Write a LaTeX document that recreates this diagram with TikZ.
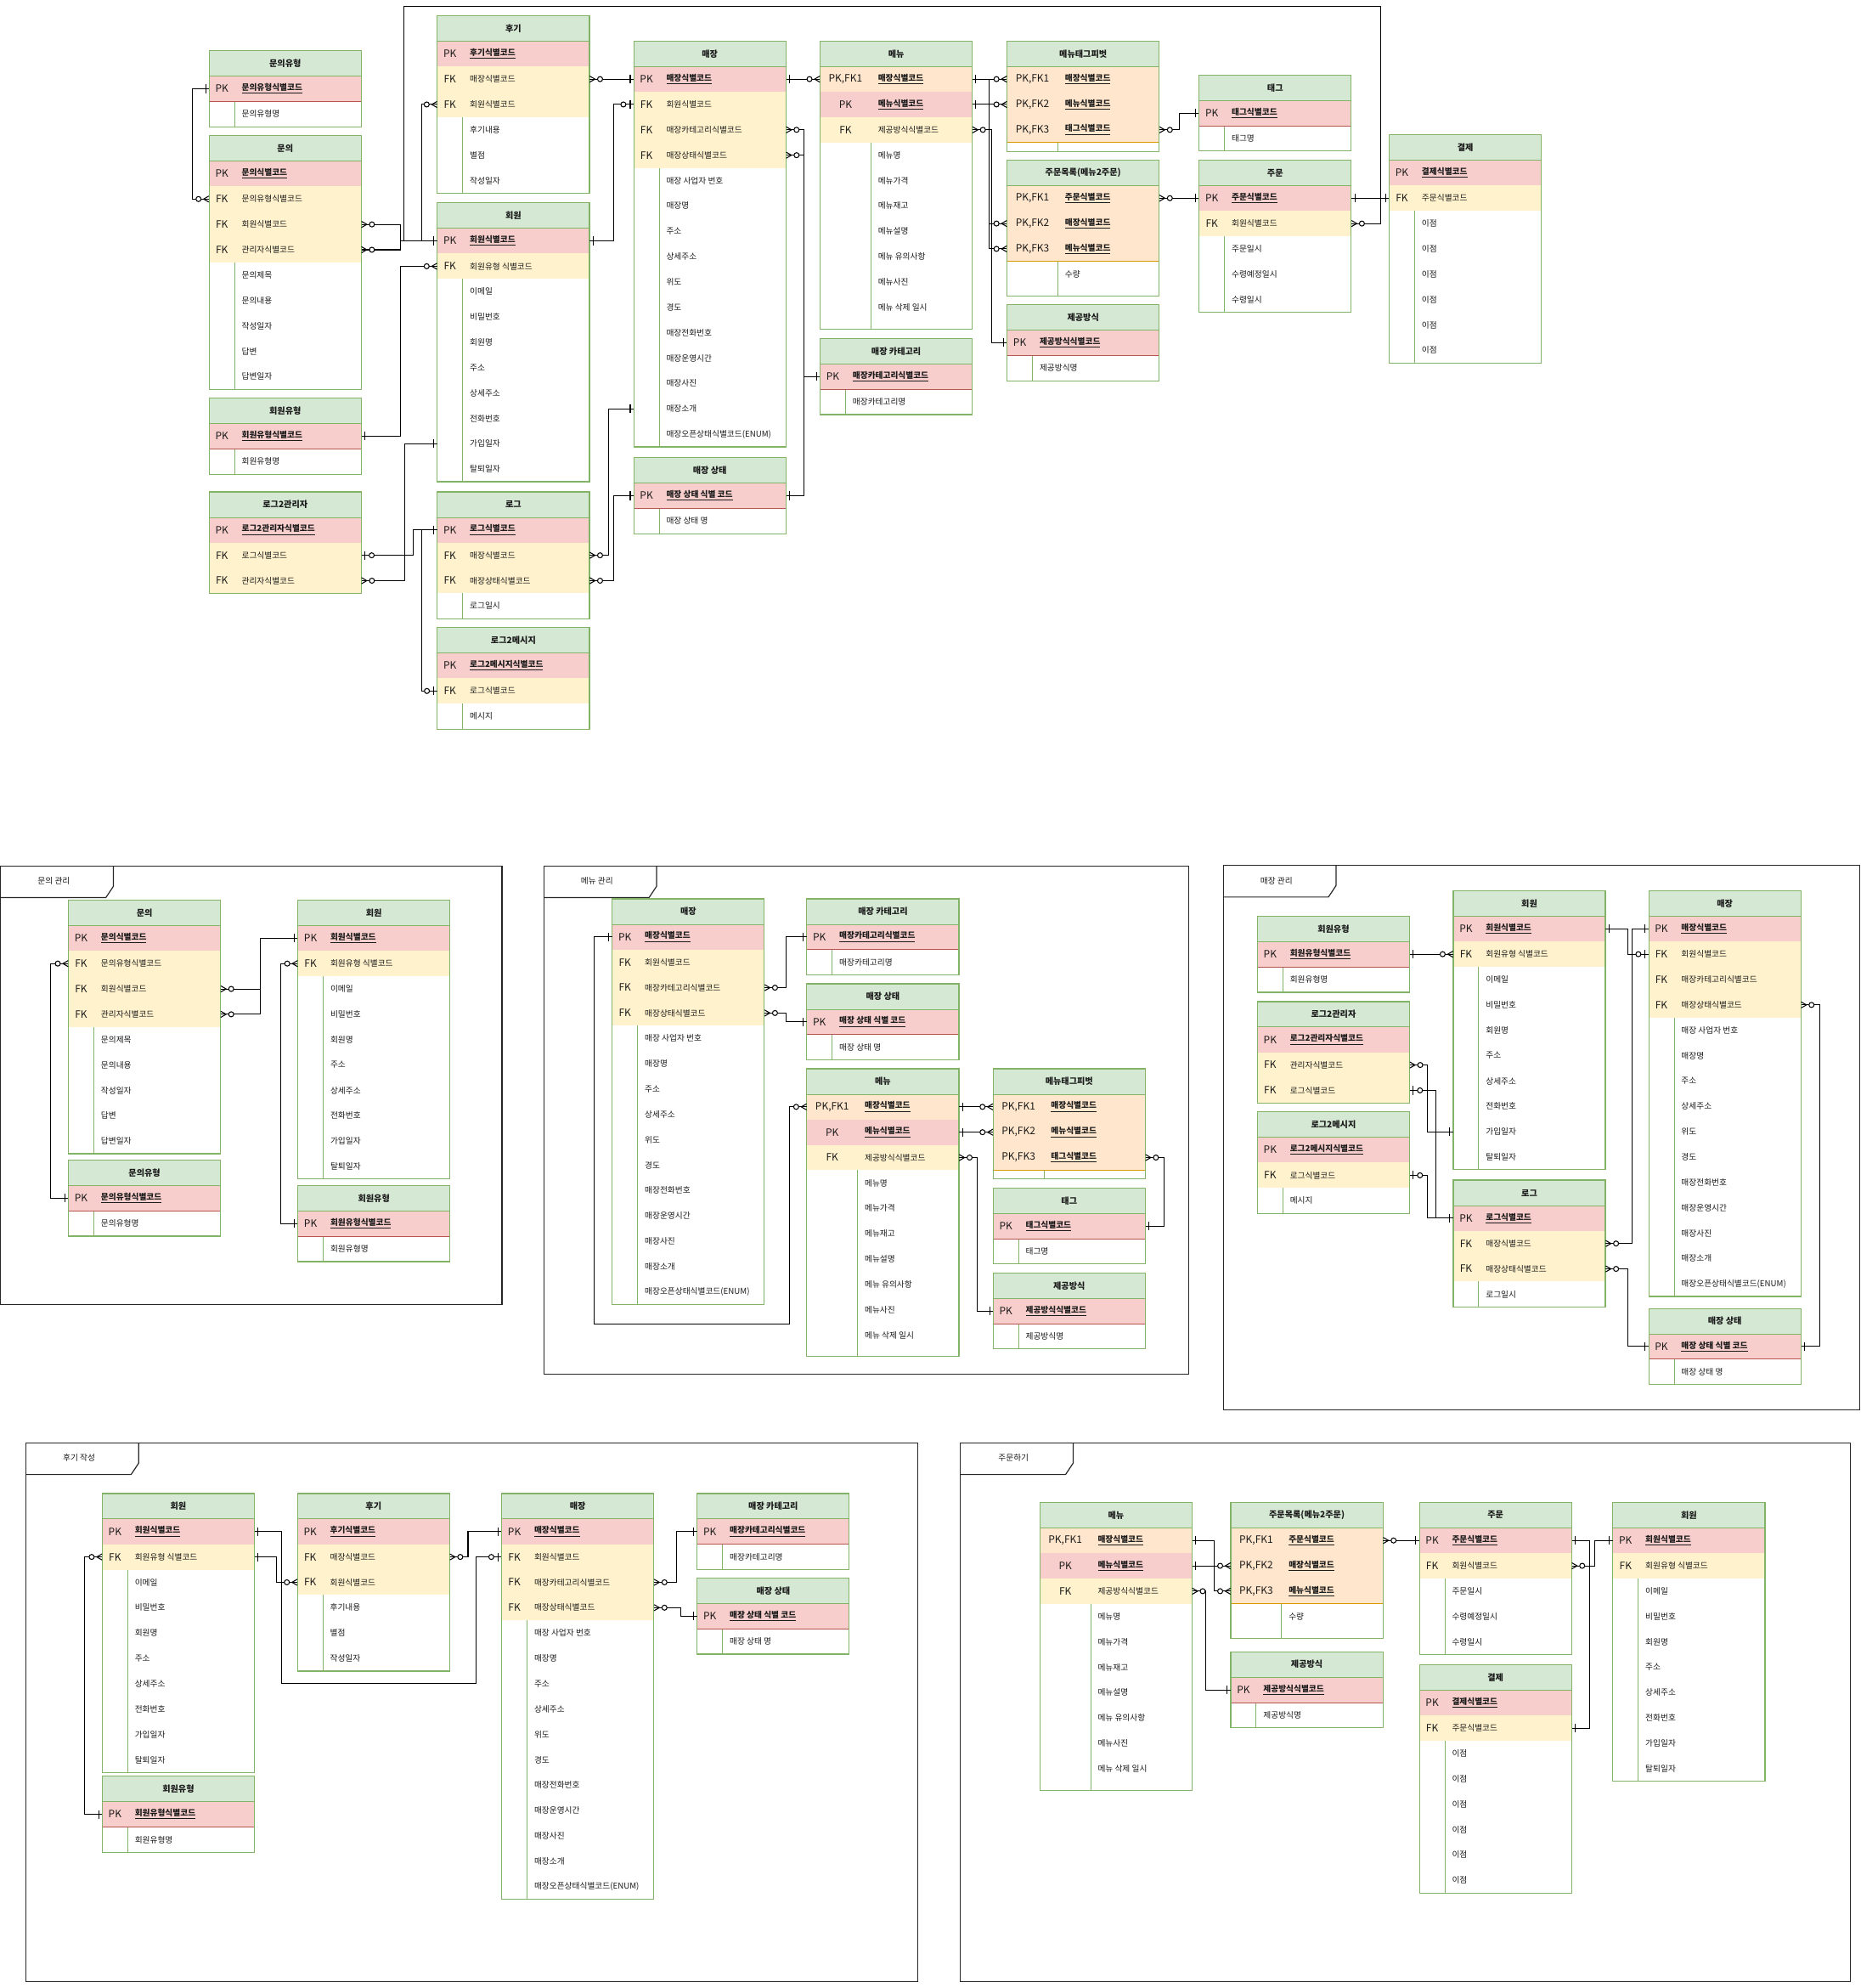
\documentclass[tikz,border=0pt]{standalone}
\usepackage{fontspec}
\setmainfont{Noto Sans CJK KR}

\definecolor{ttlc}{HTML}{D5E8D4}
\definecolor{grnc}{HTML}{82B366}
\definecolor{pkc}{HTML}{F8CECC}
\definecolor{pkline}{HTML}{B85450}
\definecolor{fkc}{HTML}{FFF2CC}
\definecolor{pfkc}{HTML}{FFE6CC}
\definecolor{pfkline}{HTML}{D79B00}
\definecolor{txtc}{HTML}{1A1A1A}

\tikzset{
  ertitle/.style={fill=ttlc, minimum width=120pt, minimum height=20pt, inner sep=0pt, font=\bfseries\fontsize{6.8}{7}\selectfont, text=txtc},
  errow/.style={minimum width=120pt, inner sep=0pt},
  erkey/.style={inner sep=0pt, font=\fontsize{8}{9}\selectfont, text=txtc},
  ername/.style={anchor=west, inner sep=0pt, font=\fontsize{6.5}{7}\selectfont, text=txtc},
  ergrid/.style={draw=grnc, line width=.6pt},
  erborder/.style={draw=grnc, line width=.8pt},
  cnx/.style={draw=black, line width=.7pt},
  frm/.style={draw=black!85, line width=.8pt},
  frmlbl/.style={inner sep=0pt, font=\fontsize{6.5}{7}\selectfont, text=txtc},
  lft/.style={xscale=-1},
  pics/one/.style={code={\draw[cnx] (2.6,-3.4) -- (2.6,3.4);}},
  pics/zone/.style={code={\draw[cnx] (2.6,-3.4) -- (2.6,3.4); \draw[cnx, fill=white] (8,0) circle[radius=2pt];}},
  pics/zmany/.style={code={\draw[cnx] (0,-2.4) -- (4.2,0) -- (0,2.4); \draw[cnx, fill=white] (8.2,0) circle[radius=2pt];}},
}

% row formats and fills by row type
\newcommand{\erfmtp}[1]{\textbf{\underline{#1}}}
\newcommand{\erfmtk}[1]{\textbf{\underline{#1}}}
\newcommand{\erfmtf}[1]{#1}
\newcommand{\erfmta}[1]{#1}
\newcommand{\erfmte}[1]{#1}
\newcommand{\erfmtq}[1]{#1}
\def\erfillp{pkc}\def\erfillk{pfkc}\def\erfillf{fkc}
\def\erfilla{white}\def\erfille{white}\def\erfillq{white}
\def\erwhitea{1}\def\erwhitee{1}\def\erwhiteq{1}

% entity table: id, left, top, key width, title, rows
\newcommand{\erbox}[6]{%
  \node[ertitle] (#1) at ({#2+60},{#3+10}) {#5};
  \gdef\erlast{t}%
  \edef\erlist{#6}%
  \foreach[count=\i] \ty/\ky/\nm in \erlist {%
    \pgfmathsetmacro\rtop{#3+20*\i}%
    \def\rh{20}%
    \if e\ty \def\rh{7}\fi
    \if q\ty \def\rh{27}\fi
    \edef\rf{\csname erfill\ty\endcsname}%
    \node[errow, minimum height=\rh pt, fill=\rf] (#1-\i) at ({#2+60},{\rtop+\rh/2}) {};
    \node[erkey] at ({#2+#4/2},{\rtop+10}) {\ky};
    \node[ername] at ({#2+#4+5.5},{\rtop+10}) {\csname erfmt\ty\endcsname{\nm}};
    \ifcsname erwhite\ty\endcsname
      \draw[ergrid] ({#2+#4},\rtop) -- ({#2+#4},{\rtop+\rh});
      \if p\erlast \draw[draw=pkline, line width=.6pt] (#2,\rtop) -- ({#2+120},\rtop); \fi
      \if k\erlast \draw[draw=pfkline, line width=.6pt] (#2,\rtop) -- ({#2+120},\rtop); \fi
    \fi
    \pgfmathsetmacro\rb{\rtop+\rh}%
    \xdef\erbot{\rb}%
    \xdef\erlast{\ty}%
  }
  \draw[draw=grnc, line width=.5pt] (#2,{#3+20}) -- ({#2+120},{#3+20});
  \draw[erborder] (#2,#3) rectangle ({#2+120},\erbot);
}

% frame with label tab: id, x0, y0, x1, y1, label
\newcommand{\erframe}[6]{%
  \draw[frm] (#2,#3) rectangle (#4,#5);
  \draw[frm] (#2,{#3+25}) -- ({#2+83},{#3+25}) -- ({#2+89},{#3+16}) -- ({#2+89},#3);
  \node[frmlbl] (#1) at ({#2+42},{#3+12}) {#6};
}

\newcommand{\rlinq}{p/PK/문의식별코드, f/FK/문의유형식별코드, f/FK/회원식별코드, f/FK/관리자식별코드, a//문의제목, a//문의내용, a//작성일자, a//답변, a//답변일자}
\newcommand{\rlinqtype}{p/PK/문의유형식별코드, a//문의유형명}
\newcommand{\rlmem}{p/PK/회원식별코드, f/FK/회원유형 식별코드, a//이메일, a//비밀번호, a//회원명, a//주소, a//상세주소, a//전화번호, a//가입일자, a//탈퇴일자}
\newcommand{\rlmemtype}{p/PK/회원유형식별코드, a//회원유형명}
\newcommand{\rlstore}{p/PK/매장식별코드, f/FK/회원식별코드, f/FK/매장카테고리식별코드, f/FK/매장상태식별코드, a//매장 사업자 번호, a//매장명, a//주소, a//상세주소, a//위도, a//경도, a//매장전화번호, a//매장운영시간, a//매장사진, a//매장소개, a//매장오픈상태식별코드(ENUM)}
\newcommand{\rlstate}{p/PK/매장 상태 식별 코드, a//매장 상태 명}
\newcommand{\rlcat}{p/PK/매장카테고리식별코드, a//매장카테고리명}
\newcommand{\rlmenu}{k/{PK,FK1}/매장식별코드, p/PK/메뉴식별코드, f/FK/제공방식식별코드, a//메뉴명, a//메뉴가격, a//메뉴재고, a//메뉴설명, a//메뉴 유의사항, a//메뉴사진, a//메뉴 삭제 일시, e//}
\newcommand{\rlpivot}{k/{PK,FK1}/매장식별코드, k/{PK,FK2}/메뉴식별코드, k/{PK,FK3}/태그식별코드, e//}
\newcommand{\rlorditem}{k/{PK,FK1}/주문식별코드, k/{PK,FK2}/매장식별코드, k/{PK,FK3}/메뉴식별코드, q//수량}
\newcommand{\rlserve}{p/PK/제공방식식별코드, a//제공방식명}
\newcommand{\rltag}{p/PK/태그식별코드, a//태그명}
\newcommand{\rlorder}{p/PK/주문식별코드, f/FK/회원식별코드, a//주문일시, a//수령예정일시, a//수령일시}
\newcommand{\rlpay}{p/PK/결제식별코드, f/FK/주문식별코드, a//이점, a//이점, a//이점, a//이점, a//이점, a//이점}
\newcommand{\rlreview}{p/PK/후기식별코드, f/FK/매장식별코드, f/FK/회원식별코드, a//후기내용, a//별점, a//작성일자}
\newcommand{\rllog}{p/PK/로그식별코드, f/FK/매장식별코드, f/FK/매장상태식별코드, a//로그일시}
\newcommand{\rllogmsg}{p/PK/로그2메시지식별코드, f/FK/로그식별코드, a//메시지}

\begin{document}
\begin{tikzpicture}[x=1pt,y=-1pt]
\useasboundingbox (0,0) rectangle (1468,1568);

% overview
\erbox{qt}{165}{40}{20}{문의유형}{\rlinqtype}
\erbox{iq}{165}{107}{20}{문의}{\rlinq}
\erbox{mt}{165}{314}{20}{회원유형}{\rlmemtype}
\erbox{la}{165}{388}{20}{로그2관리자}{p/PK/로그2관리자식별코드, f/FK/로그식별코드, f/FK/관리자식별코드}
\erbox{rv}{345}{12.4}{20}{후기}{\rlreview}
\erbox{mb}{345}{160}{20}{회원}{\rlmem}
\erbox{lg}{345}{388}{20}{로그}{\rllog}
\erbox{lm}{345}{495}{20}{로그2메시지}{\rllogmsg}
\erbox{st}{500}{32.4}{20}{매장}{\rlstore}
\erbox{ss}{500}{361}{20}{매장 상태}{\rlstate}
\erbox{mn}{647}{32.4}{40}{메뉴}{\rlmenu}
\erbox{ct}{647}{267}{20}{매장 카테고리}{\rlcat}
\erbox{tp}{794.5}{32.4}{40}{메뉴태그피벗}{\rlpivot}
\erbox{ol}{794.5}{126.3}{40}{주문목록(메뉴2주문)}{\rlorditem}
\erbox{dm}{794.5}{240.3}{20}{제공방식}{\rlserve}
\erbox{tg}{946}{59.2}{20}{태그}{\rltag}
\erbox{od}{946}{126.3}{20}{주문}{\rlorder}
\erbox{py}{1096}{106.3}{20}{결제}{\rlpay}

\coordinate (topbend) at (1089,5);
\draw[cnx] (iq-2.west) -- ++(-13,0) |- (qt-1.west);
\draw[cnx] (iq-3.east) -- ++(31,0) |- (mb-1.west);
\draw[cnx] (iq-4.east) -- ++(31,0) |- (mb-1.west);
\draw[cnx] (rv-3.west) -- ++(-12,0) |- (mb-1.west);
\draw[cnx] (mb-1.west) -- ++(-26,0) |- (topbend) |- (od-2.east);
\draw[cnx] (mt-1.east) -- ++(31,0) |- (mb-2.west);
\draw[cnx] (la-3.east) -- ++(34,0) |- (mb-9.west);
\draw[cnx] (la-2.east) -- ++(40.7,0) |- (lg-1.west);
\draw[cnx] (lm-2.west) -- ++(-12.4,0) |- (lg-1.west);
\draw[cnx] (rv-2.east) -- (st-1.west);
\draw[cnx] (mb-1.east) -- ++(19,0) |- (st-2.west);
\draw[cnx] (lg-2.east) -- ++(15,0) |- (st-14.west);
\draw[cnx] (lg-3.east) -- ++(19,0) |- (ss-1.west);
\draw[cnx] (st-3.east) -- ++(14,0) |- (ct-1.west);
\draw[cnx] (st-4.east) -- ++(14,0) |- (ss-1.east);
\draw[cnx] (st-1.east) -- (mn-1.west);
\draw[cnx] (mn-1.east) -- (tp-1.west);
\draw[cnx] (mn-2.east) -- (tp-2.west);
\draw[cnx] (mn-1.east) -- ++(13,0) |- (ol-2.west);
\draw[cnx] (mn-2.east) -- ++(13,0) |- (ol-3.west);
\draw[cnx] (mn-3.east) -- ++(15,0) |- (dm-1.west);
\draw[cnx] (tp-3.east) -- ++(15.5,0) |- (tg-1.west);
\draw[cnx] (ol-1.east) -- (od-1.west);
\draw[cnx] (od-1.east) -- (py-2.west);

\pic[lft] at (iq-2.west) {zmany}; \pic[lft] at (qt-1.west) {one};
\pic at (iq-3.east) {zmany}; \pic at (iq-4.east) {zmany}; \pic[lft] at (mb-1.west) {one};
\pic[lft] at (rv-3.west) {zmany}; \pic at (od-2.east) {zmany};
\pic at (mt-1.east) {one}; \pic[lft] at (mb-2.west) {zmany};
\pic at (la-3.east) {zmany}; \pic[lft] at (mb-9.west) {one};
\pic at (la-2.east) {zone}; \pic[lft] at (lg-1.west) {one}; \pic[lft] at (lm-2.west) {zone};
\pic at (rv-2.east) {zmany}; \pic[lft] at (st-1.west) {one};
\pic at (mb-1.east) {one}; \pic[lft] at (st-2.west) {zone};
\pic at (lg-2.east) {zmany}; \pic[lft] at (st-14.west) {one};
\pic at (lg-3.east) {zmany}; \pic[lft] at (ss-1.west) {one};
\pic at (st-3.east) {zmany}; \pic[lft] at (ct-1.west) {one};
\pic at (st-4.east) {zmany}; \pic at (ss-1.east) {one};
\pic at (st-1.east) {one}; \pic[lft] at (mn-1.west) {zmany};
\pic at (mn-1.east) {one}; \pic[lft] at (tp-1.west) {zmany};
\pic at (mn-2.east) {one}; \pic[lft] at (tp-2.west) {zmany};
\pic[lft] at (ol-2.west) {zmany}; \pic[lft] at (ol-3.west) {zmany};
\pic at (mn-3.east) {zmany}; \pic[lft] at (dm-1.west) {one};
\pic at (tp-3.east) {zmany}; \pic[lft] at (tg-1.west) {one};
\pic at (ol-1.east) {zmany}; \pic[lft] at (od-1.west) {one};
\pic at (od-1.east) {one}; \pic[lft] at (py-2.west) {one};

% 문의 관리
\erframe{f1}{0.5}{683}{396}{1029}{문의 관리}
\erbox{b1q}{54}{710}{20}{문의}{\rlinq}
\erbox{b1t}{54}{915}{20}{문의유형}{\rlinqtype}
\erbox{b1m}{235}{710}{20}{회원}{\rlmem}
\erbox{b1u}{235}{935}{20}{회원유형}{\rlmemtype}
\draw[cnx] (b1q-2.west) -- ++(-14,0) |- (b1t-1.west);
\draw[cnx] (b1q-3.east) -- ++(31,0) |- (b1m-1.west);
\draw[cnx] (b1q-4.east) -- ++(31,0) |- (b1m-1.west);
\draw[cnx] (b1m-2.west) -- ++(-13.5,0) |- (b1u-1.west);
\pic[lft] at (b1q-2.west) {zmany}; \pic[lft] at (b1t-1.west) {one};
\pic at (b1q-3.east) {zmany}; \pic at (b1q-4.east) {zmany}; \pic[lft] at (b1m-1.west) {one};
\pic[lft] at (b1m-2.west) {zmany}; \pic[lft] at (b1u-1.west) {one};

% 메뉴 관리
\erframe{f2}{429}{683}{938}{1084}{메뉴 관리}
\erbox{b2s}{483}{709}{20}{매장}{\rlstore}
\erbox{b2c}{636.5}{709}{20}{매장 카테고리}{\rlcat}
\erbox{b2x}{636.5}{776}{20}{매장 상태}{\rlstate}
\erbox{b2n}{636.5}{843}{40}{메뉴}{\rlmenu}
\erbox{b2p}{783.5}{843}{40}{메뉴태그피벗}{\rlpivot}
\erbox{b2g}{783.5}{937}{20}{태그}{\rltag}
\erbox{b2d}{783.5}{1004}{20}{제공방식}{\rlserve}
\coordinate (b2bend) at (469,1044);
\draw[cnx] (b2n-1.west) -- ++(-13.5,0) |- (b2bend) |- (b2s-1.west);
\draw[cnx] (b2s-3.east) -- ++(17,0) |- (b2c-1.west);
\draw[cnx] (b2s-4.east) -- ++(17,0) |- (b2x-1.west);
\draw[cnx] (b2n-1.east) -- (b2p-1.west);
\draw[cnx] (b2n-2.east) -- (b2p-2.west);
\draw[cnx] (b2n-3.east) -- ++(14.5,0) |- (b2d-1.west);
\draw[cnx] (b2p-3.east) -- ++(14.5,0) |- (b2g-1.east);
\pic[lft] at (b2n-1.west) {zmany}; \pic[lft] at (b2s-1.west) {one};
\pic at (b2s-3.east) {zmany}; \pic[lft] at (b2c-1.west) {one};
\pic at (b2s-4.east) {zmany}; \pic[lft] at (b2x-1.west) {one};
\pic at (b2n-1.east) {one}; \pic[lft] at (b2p-1.west) {zmany};
\pic at (b2n-2.east) {one}; \pic[lft] at (b2p-2.west) {zmany};
\pic at (b2n-3.east) {zmany}; \pic[lft] at (b2d-1.west) {one};
\pic at (b2p-3.east) {zmany}; \pic at (b2g-1.east) {one};

% 매장 관리
\erframe{f3}{965}{682.5}{1467}{1112}{매장 관리}
\erbox{b3u}{992}{722.6}{20}{회원유형}{\rlmemtype}
\erbox{b3a}{992}{790}{20}{로그2관리자}{p/PK/로그2관리자식별코드, f/FK/관리자식별코드, f/FK/로그식별코드}
\erbox{b3e}{992}{877}{20}{로그2메시지}{\rllogmsg}
\erbox{b3m}{1146.5}{702.6}{20}{회원}{\rlmem}
\erbox{b3l}{1146.5}{930.8}{20}{로그}{\rllog}
\erbox{b3s}{1300.7}{702.6}{20}{매장}{\rlstore}
\erbox{b3x}{1300.7}{1032}{20}{매장 상태}{\rlstate}
\draw[cnx] (b3u-1.east) -- (b3m-2.west);
\draw[cnx] (b3m-1.east) -- ++(17.5,0) |- (b3s-2.west);
\draw[cnx] (b3l-2.east) -- ++(21,0) |- (b3s-1.west);
\draw[cnx] (b3l-3.east) -- ++(17.5,0) |- (b3x-1.west);
\draw[cnx] (b3s-4.east) -- ++(14.5,0) |- (b3x-1.east);
\draw[cnx] (b3a-2.east) -- ++(14,0) |- (b3m-9.west);
\draw[cnx] (b3a-3.east) -- ++(20.6,0) |- (b3l-1.west);
\draw[cnx] (b3e-2.east) -- ++(14,0) |- (b3l-1.west);
\pic at (b3u-1.east) {one}; \pic[lft] at (b3m-2.west) {zmany};
\pic at (b3m-1.east) {one}; \pic[lft] at (b3s-2.west) {zone};
\pic at (b3l-2.east) {zmany}; \pic[lft] at (b3s-1.west) {one};
\pic at (b3l-3.east) {zmany}; \pic[lft] at (b3x-1.west) {one};
\pic at (b3s-4.east) {zmany}; \pic at (b3x-1.east) {one};
\pic at (b3a-2.east) {zmany}; \pic[lft] at (b3m-9.west) {one};
\pic at (b3a-3.east) {zone}; \pic[lft] at (b3l-1.west) {one};
\pic at (b3e-2.east) {zone};

% 후기 작성
\erframe{f4}{20.4}{1138}{724}{1563}{후기 작성}
\erbox{b4m}{80.7}{1178}{20}{회원}{\rlmem}
\erbox{b4u}{80.7}{1401}{20}{회원유형}{\rlmemtype}
\erbox{b4r}{234.7}{1178}{20}{후기}{\rlreview}
\erbox{b4s}{395.8}{1178}{20}{매장}{\rlstore}
\erbox{b4c}{550}{1178}{20}{매장 카테고리}{\rlcat}
\erbox{b4x}{550}{1244.6}{20}{매장 상태}{\rlstate}
\coordinate (b4bend) at (375.4,1327.6);
\draw[cnx] (b4m-1.east) -- ++(21,0) |- (b4bend) |- (b4s-2.west);
\draw[cnx] (b4m-2.east) -- ++(17,0) |- (b4r-3.west);
\draw[cnx] (b4m-2.west) -- ++(-13.7,0) |- (b4u-1.west);
\draw[cnx] (b4r-2.east) -- ++(14.3,0) |- (b4s-1.west);
\draw[cnx] (b4s-3.east) -- ++(17.7,0) |- (b4c-1.west);
\draw[cnx] (b4s-4.east) -- ++(21.2,0) |- (b4x-1.west);
\pic at (b4m-1.east) {one}; \pic[lft] at (b4s-2.west) {zone};
\pic at (b4m-2.east) {one}; \pic[lft] at (b4r-3.west) {zmany};
\pic[lft] at (b4m-2.west) {zmany}; \pic[lft] at (b4u-1.west) {one};
\pic at (b4r-2.east) {zmany}; \pic[lft] at (b4s-1.west) {one};
\pic at (b4s-3.east) {zmany}; \pic[lft] at (b4c-1.west) {one};
\pic at (b4s-4.east) {zmany}; \pic[lft] at (b4x-1.west) {one};

% 주문하기
\erframe{f5}{757.6}{1138}{1460}{1563}{주문하기}
\erbox{b5n}{820.4}{1185}{40}{메뉴}{\rlmenu}
\erbox{b5o}{971}{1185}{40}{주문목록(메뉴2주문)}{\rlorditem}
\erbox{b5d}{971}{1302.8}{20}{제공방식}{\rlserve}
\erbox{b5r}{1119.8}{1185}{20}{주문}{\rlorder}
\erbox{b5p}{1119.8}{1313}{20}{결제}{\rlpay}
\erbox{b5m}{1272.4}{1185}{20}{회원}{\rlmem}
\draw[cnx] (b5n-1.east) -- ++(17,0) |- (b5o-2.west);
\draw[cnx] (b5n-2.east) -- ++(17,0) |- (b5o-3.west);
\draw[cnx] (b5n-3.east) -- ++(10.6,0) |- (b5d-1.west);
\draw[cnx] (b5o-1.east) -- (b5r-1.west);
\draw[cnx] (b5r-1.east) -- ++(14.2,0) |- (b5p-2.east);
\draw[cnx] (b5r-2.east) -- ++(18.2,0) |- (b5m-1.west);
\pic at (b5n-1.east) {one}; \pic[lft] at (b5o-2.west) {zmany};
\pic at (b5n-2.east) {one}; \pic[lft] at (b5o-3.west) {zmany};
\pic at (b5n-3.east) {zmany}; \pic[lft] at (b5d-1.west) {one};
\pic at (b5o-1.east) {zmany}; \pic[lft] at (b5r-1.west) {one};
\pic at (b5r-1.east) {one}; \pic at (b5p-2.east) {one};
\pic at (b5r-2.east) {zmany}; \pic[lft] at (b5m-1.west) {one};
\end{tikzpicture}
\end{document}
